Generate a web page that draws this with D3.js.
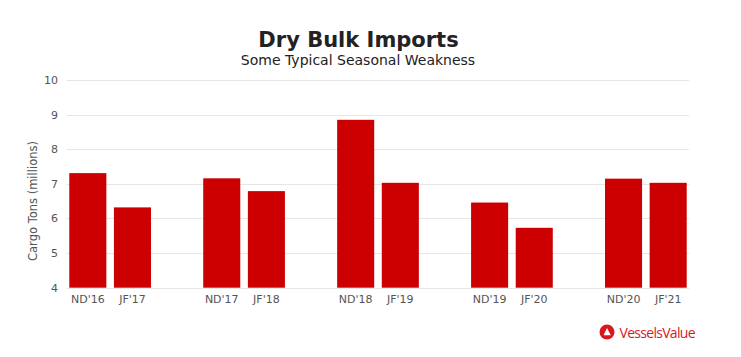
<!DOCTYPE html>
<html><head><meta charset="utf-8">
<script src="https://cdn.jsdelivr.net/npm/d3@7"></script>
<style>html,body{margin:0;padding:0;background:#fff;}</style>
</head><body>
<script>
const categories = ["ND'16","JF'17","ND'17","JF'18","ND'18","JF'19","ND'19","JF'20","ND'20","JF'21"];
const values = [7.31, 6.32, 7.16, 6.79, 8.85, 7.03, 6.46, 5.73, 7.15, 7.03];
const yTicks = [4,5,6,7,8,9,10];
const title = "Dry Bulk Imports";
const subtitle = "Some Typical Seasonal Weakness";
const yLabel = "Cargo Tons (millions)";

const W = 741, H = 357;
const svg = d3.select("body").append("svg").attr("width", W).attr("height", H)
  .style("font-family", "'DejaVu Sans', Verdana, sans-serif");

// slots: pairs separated by a blank slot
const slots = [];
categories.forEach((c, i) => { slots.push(c); if (i % 2 === 1 && i < categories.length - 1) slots.push("__gap" + i); });

const x = d3.scaleBand().domain(slots).range([65.5, 690.5]).paddingInner(0.17).paddingOuter(0.085);
const y = d3.scaleLinear().domain([4, 10]).range([287.7, 80]);

// gridlines
svg.append("g").selectAll("line").data(yTicks).join("line")
  .attr("x1", 66.5).attr("x2", 689).attr("y1", d => Math.round(y(d)) + 0.5).attr("y2", d => Math.round(y(d)) + 0.5)
  .attr("stroke", "#e6e6e6").attr("stroke-width", 1);

// y axis
const yAxis = svg.append("g").attr("transform", "translate(58,0)")
  .call(d3.axisLeft(y).tickValues(yTicks).tickSize(0).tickPadding(0).tickFormat(d3.format("d")));
yAxis.select(".domain").remove();
yAxis.selectAll("text").attr("fill", "#555").style("font-size", "11px").style("font-family", "'DejaVu Sans', Verdana, sans-serif");

// bars
svg.append("g").selectAll("rect").data(categories).join("rect")
  .attr("x", d => x(d)).attr("width", x.bandwidth())
  .attr("y", (d, i) => y(values[i])).attr("height", (d, i) => y(4) - y(values[i]))
  .attr("fill", "#cc0000");

// x axis
const xAxis = svg.append("g").attr("transform", "translate(0,292)")
  .call(d3.axisBottom(x).tickValues(categories).tickSize(0).tickPadding(3));
xAxis.select(".domain").remove();
xAxis.selectAll("text").attr("fill", "#555").style("font-size", "11px").style("font-family", "'DejaVu Sans', Verdana, sans-serif");

// titles
svg.append("text").attr("x", 358.5).attr("y", 47).attr("text-anchor", "middle")
  .attr("font-weight", "bold").attr("font-size", 21).attr("fill", "#222").text(title);
svg.append("text").attr("x", 358).attr("y", 65).attr("text-anchor", "middle")
  .attr("font-size", 14).attr("fill", "#222").text(subtitle);

// y label
svg.append("text").attr("transform", "translate(37,201) rotate(-90)").attr("text-anchor", "middle")
  .attr("font-size", 11.5).attr("fill", "#555").text(yLabel);

// logo
const logo = svg.append("g").attr("transform", "translate(607,332)");
logo.append("circle").attr("r", 7.5).attr("fill", "#d7181f");
logo.append("path").attr("d", "M-3.4,3.2 L0,-4 L3.8,3.2 Z").attr("fill", "#fff");
svg.append("text").attr("x", 619.5).attr("y", 337.5).attr("font-size", 14).attr("fill", "#d7181f")
  .attr("letter-spacing", "-0.7").style("font-family", "'Open Sans', sans-serif").text("VesselsValue");
</script>
</body></html>
